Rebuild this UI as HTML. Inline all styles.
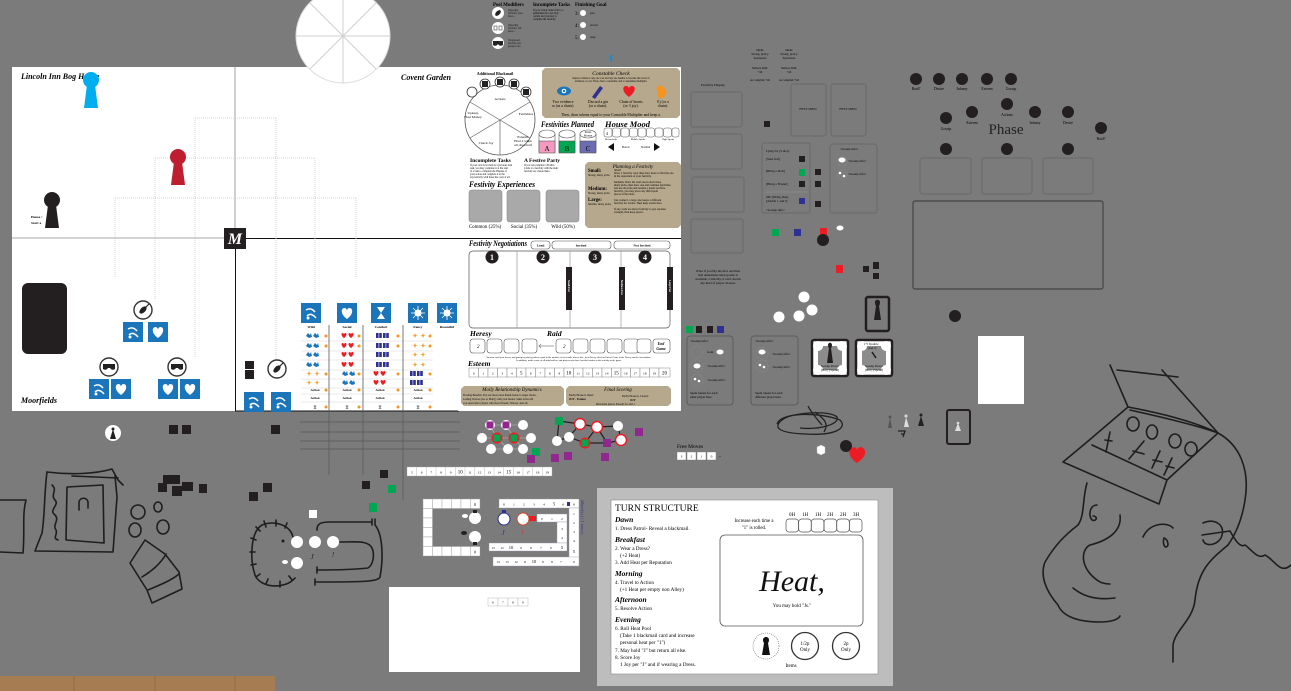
<!DOCTYPE html>
<html><head><meta charset="utf-8"><style>
html,body{margin:0;padding:0;background:#7b7b7b;width:1291px;height:691px;overflow:hidden}
svg{display:block}
text{font-family:"Liberation Serif",serif}
</style></head><body>
<svg width="1291" height="691" viewBox="0 0 1291 691" xmlns="http://www.w3.org/2000/svg">
<defs>
<g id="pawn"><circle cx="9" cy="8" r="8"/><path d="M5,13 L2,36 L16,36 L13,13 Z"/></g>
<g id="sqW"><rect width="20" height="20" fill="#1a75bb"/><path d="M5,7 Q10,4 14,9 M6,13 Q10,9 15,15" stroke="#fff" stroke-width="1.5" fill="none"/><circle cx="7" cy="15" r="1.5" fill="#fff"/></g>
<g id="sqH"><rect width="20" height="20" fill="#1a75bb"/><path d="M10,16 C3,11 4,5 7.5,5 C9,5 10,6.5 10,8 C10,6.5 11,5 12.5,5 C16,5 17,11 10,16 Z" fill="#fff"/></g>
<g id="sqC"><rect width="20" height="20" fill="#1a75bb"/><path d="M6,4 H14 L10,10 L14,16 H6 L10,10 Z" fill="#fff"/></g>
<g id="sqF"><rect width="20" height="20" fill="#1a75bb"/><circle cx="10" cy="10" r="3.5" fill="#fff"/><path d="M10,3 V17 M3,10 H17 M5,5 L15,15 M15,5 L5,15" stroke="#fff" stroke-width="0.8"/></g>
<g id="vio"><circle r="9" fill="#fff" stroke="#333" stroke-width="1.4"/><ellipse rx="2.5" ry="4.5" transform="rotate(45)" fill="#222"/><path d="M2,-2 L6,-6" stroke="#222" stroke-width="1.2"/></g>
<g id="mask"><circle r="9" fill="#fff" stroke="#333" stroke-width="1.4"/><path d="M-6,-3 H6 V2 Q3,4 1,1 H-1 Q-3,4 -6,2 Z" fill="#222"/></g>
<g id="bf"><path d="M0,3 L2,0 L4,2 L5,0 L6,4 L3,5 Z" fill="#1a75bb"/></g>
<g id="rh"><path d="M3,5 C0,3 0,0 1.5,0 C2.3,0 3,0.7 3,1.3 C3,0.7 3.7,0 4.5,0 C6,0 6,3 3,5 Z" fill="#ed1c24"/></g>
<g id="nv"><rect width="2.6" height="5" fill="#2e3192"/><rect x="3.2" width="2.6" height="5" fill="#2e3192"/></g>
<g id="os"><path d="M3,0 L3.8,2.2 L6,2.5 L3.8,3 L3,5 L2.2,3 L0,2.5 L2.2,2.2 Z" fill="#f7941d"/></g>
</defs>
<rect width="1291" height="691" fill="#7b7b7b"/>

<!-- LEFT BOARD -->
<rect x="12" y="67" width="446" height="344" fill="#fff"/>
<line x1="235" y1="67" x2="235" y2="238" stroke="#8a8a8a" stroke-width="0.8"/>
<line x1="12" y1="238" x2="235" y2="238" stroke="#8a8a8a" stroke-width="0.8"/>
<rect x="235.5" y="238.5" width="223" height="172.5" fill="none" stroke="#111" stroke-width="1"/>
<g stroke="#c8c8c8" stroke-width="0.8" stroke-dasharray="1,1" fill="none">
<path d="M195,118 H276 M155,158 H315 M115,198 H356 M195,118 V357 M276,118 V360 M155,158 V300 M315,158 V300 M115,198 V278 M356,198 V278"/>
</g>
<!-- top circle -->
<circle cx="343" cy="36" r="47" fill="#fff" stroke="#ddd" stroke-width="1"/>
<g stroke="#d0d0d0" stroke-width="1"><line x1="296" y1="36" x2="390" y2="36"/><line x1="343" y1="-11" x2="343" y2="83"/><line x1="310" y1="3" x2="376" y2="69"/><line x1="376" y1="3" x2="310" y2="69"/></g>

<text x="21" y="79" font-size="8" font-style="italic" font-weight="bold">Lincoln Inn Bog House</text>
<text x="451" y="80" font-size="8" font-style="italic" font-weight="bold" text-anchor="end">Covent Garden</text>
<text x="21" y="403" font-size="8" font-style="italic" font-weight="bold">Moorfields</text>
<text x="31" y="218" font-size="3.5" font-weight="bold">House /</text>
<text x="31" y="224" font-size="3.5" font-weight="bold">Start a</text>
<use href="#pawn" x="82" y="72" fill="#00aeef"/>
<use href="#pawn" x="169" y="149" fill="#be1e2d"/>
<use href="#pawn" x="43" y="192" fill="#231f20"/>
<rect x="224" y="228" width="22" height="21" fill="#231f20"/>
<text x="235" y="244" font-size="16" font-style="italic" font-weight="bold" fill="#fff" text-anchor="middle">M</text>
<rect x="22" y="283" width="45" height="71" rx="6" fill="#231f20"/>
<use href="#vio" x="143" y="310"/>
<use href="#sqW" x="123" y="322"/><use href="#sqH" x="148" y="322"/>
<use href="#mask" x="109" y="367"/><use href="#mask" x="177" y="367"/>
<use href="#sqW" x="89" y="379"/><use href="#sqH" x="111" y="379"/>
<use href="#sqH" x="158" y="379"/><use href="#sqH" x="180" y="379"/>
<rect x="245" y="361" width="9" height="8" fill="#231f20"/><rect x="245" y="370" width="9" height="9" fill="#231f20"/>
<use href="#vio" x="277" y="369"/>
<use href="#sqW" x="244" y="392"/><use href="#sqW" x="271" y="392"/>
<use href="#sqW" x="301" y="303"/><use href="#sqH" x="337" y="303"/><use href="#sqC" x="371" y="303"/><use href="#sqF" x="408" y="303"/><use href="#sqF" x="437" y="303"/>
<g font-size="3.5" font-weight="bold" text-anchor="middle">
<text x="311" y="328">Wild</text><text x="347" y="328">Social</text><text x="381" y="328">Comfort</text><text x="418" y="328">Fancy</text><text x="447" y="328">Resentful</text></g>
<g stroke="#d5d5d5" stroke-width="0.5"><path d="M301,341 H433 M301,351 H433 M301,360 H433 M301,370 H433 M301,379 H433 M301,388 H433 M301,394 H433 M301,402 H433"/></g>
<!-- table glyph rows -->
<g>
<use href="#bf" x="306" y="333"/><use href="#bf" x="313" y="333"/><use href="#rh" x="341" y="333"/><use href="#rh" x="348" y="333"/><use href="#nv" x="376" y="333"/><use href="#nv" x="383" y="333"/><use href="#os" x="412" y="333"/><use href="#os" x="420" y="333"/>
<use href="#bf" x="306" y="343"/><use href="#bf" x="313" y="343"/><use href="#rh" x="341" y="343"/><use href="#rh" x="348" y="343"/><use href="#nv" x="376" y="343"/><use href="#nv" x="383" y="343"/><use href="#os" x="412" y="343"/><use href="#os" x="420" y="343"/>
<use href="#bf" x="306" y="352"/><use href="#bf" x="313" y="352"/><use href="#rh" x="341" y="352"/><use href="#rh" x="348" y="352"/><use href="#nv" x="376" y="352"/><use href="#nv" x="383" y="352"/><use href="#os" x="412" y="352"/><use href="#os" x="420" y="352"/>
<use href="#bf" x="306" y="362"/><use href="#bf" x="313" y="362"/><use href="#rh" x="341" y="362"/><use href="#rh" x="348" y="362"/><use href="#nv" x="376" y="362"/><use href="#nv" x="383" y="362"/><use href="#os" x="412" y="362"/><use href="#os" x="420" y="362"/>
<use href="#os" x="306" y="371"/><use href="#os" x="314" y="371"/><use href="#bf" x="342" y="371"/><use href="#bf" x="349" y="371"/><use href="#rh" x="373" y="371"/><use href="#rh" x="380" y="371"/><use href="#nv" x="410" y="371"/><use href="#nv" x="417" y="371"/>
<use href="#os" x="306" y="380"/><use href="#os" x="314" y="380"/><use href="#bf" x="342" y="380"/><use href="#bf" x="349" y="380"/><use href="#rh" x="373" y="380"/><use href="#rh" x="380" y="380"/><use href="#nv" x="410" y="380"/><use href="#nv" x="417" y="380"/>
</g>
<g fill="#f7941d">
<circle cx="326" cy="336" r="1.5"/><circle cx="359" cy="336" r="1.5"/><circle cx="398" cy="336" r="1.5"/><circle cx="430" cy="336" r="1.5"/>
<circle cx="326" cy="346" r="1.5"/><circle cx="359" cy="346" r="1.5"/><circle cx="398" cy="346" r="1.5"/><circle cx="430" cy="346" r="1.5"/>
<circle cx="326" cy="374" r="1.5"/><circle cx="359" cy="374" r="1.5"/><circle cx="398" cy="374" r="1.5"/><circle cx="430" cy="374" r="1.5"/>
<circle cx="326" cy="390" r="1.5"/><circle cx="359" cy="390" r="1.5"/><circle cx="398" cy="390" r="1.5"/><circle cx="430" cy="390" r="1.5"/>
<circle cx="326" cy="407" r="1.5"/><circle cx="359" cy="407" r="1.5"/><circle cx="398" cy="407" r="1.5"/><circle cx="430" cy="407" r="1.5"/></g>
<g font-size="3.2" font-weight="bold" text-anchor="middle">
<text x="315" y="391">Action</text><text x="347" y="391">Action</text><text x="380" y="391">Action</text><text x="418" y="391">Action</text>
<text x="315" y="399">Action</text><text x="347" y="399">Action</text><text x="380" y="399">Action</text><text x="418" y="399">Action</text>
<text x="315" y="409" font-size="5">!!</text><text x="347" y="409" font-size="5">!!</text><text x="380" y="409" font-size="5">!!</text><text x="418" y="409" font-size="5">!!</text></g>
<g stroke="#5a5a5a" stroke-width="0.8" fill="none"><path d="M329,325 V475 M363,325 V475 M403,325 V500 M300,422 H460 M300,432 H460 M300,441 H460 M300,449 H460"/></g>

<!-- MIDDLE BOARD -->
<rect x="458" y="67" width="223" height="344" fill="#fff"/>
<line x1="458" y1="238.5" x2="681" y2="238.5" stroke="#111" stroke-width="1"/>
<circle cx="500" cy="120" r="35" fill="#fff" stroke="#555" stroke-width="0.8"/>
<g stroke="#666" stroke-width="0.7"><line x1="500" y1="120" x2="470" y2="102"/><line x1="500" y1="120" x2="530" y2="102"/><line x1="500" y1="120" x2="500" y2="155"/><line x1="500" y1="120" x2="530" y2="138"/><line x1="500" y1="120" x2="470" y2="138"/></g>
<text x="495" y="75" font-size="4" font-weight="bold" text-anchor="middle">Additional Blackmail</text>
<circle cx="472" cy="92" r="5" fill="#fff" stroke="#333" stroke-width="0.8"/>
<g fill="#fff" stroke="#333" stroke-width="0.8"><circle cx="485" cy="84" r="5"/><circle cx="500" cy="82" r="5"/><circle cx="514" cy="84" r="5"/><circle cx="526" cy="92" r="5"/></g>
<g fill="#222"><rect x="482" y="81" width="6" height="6"/><rect x="497" y="79" width="6" height="6"/><rect x="511" y="81" width="6" height="6"/><rect x="523" y="89" width="6" height="6"/></g>
<g font-size="3.5" text-anchor="middle"><text x="500" y="100">Actions</text><text x="473" y="114">Upkeep</text><text x="473" y="118">Host Money</text><text x="526" y="115">Festivities</text><text x="486" y="144">Check Joy</text><text x="523" y="138">Esteem:</text><text x="523" y="142">Host 2 when</text><text x="523" y="146">all, then half</text></g>
<path d="M545,68 H677 L680,71 V115 L677,118 H545 L542,115 V71 Z" fill="#b6a88c"/>
<text x="611" y="75" font-size="5.5" font-style="italic" text-anchor="middle">Constable Check</text>
<text x="611" y="79" font-size="2.6" text-anchor="middle">Inspect evidence: any one cost and any one bundle to become the worst of</text>
<text x="611" y="82" font-size="2.6" text-anchor="middle">evidence or cost. Then, draw a constable card to determine multiplier.</text>
<ellipse cx="564" cy="91" rx="7" ry="4.5" fill="#1a75bb"/><circle cx="564" cy="91" r="2.3" fill="#fff"/><circle cx="564" cy="91" r="1.2" fill="#1a75bb"/>
<path d="M592,97 L600,86 L603,88 L595,99 Z" fill="#2e3192"/>
<path d="M629,97 C622,92 622,86 626,86 C627.5,86 629,87 629,88.5 C629,87 630.5,86 632,86 C636,86 636,92 629,97 Z" fill="#ed1c24"/>
<circle cx="660" cy="89" r="3.5" fill="#f7941d"/><circle cx="663" cy="92" r="3.5" fill="#f7941d"/><circle cx="661" cy="95" r="3.5" fill="#f7941d"/>
<g font-size="3.8" text-anchor="middle"><text x="563" y="103">Two evidence</text><text x="563" y="107">or (as a chain).</text><text x="598" y="103">Discard a gin</text><text x="598" y="107">(or a chain).</text><text x="631" y="103">Chain of hearts</text><text x="631" y="107">(or 3 joy).</text><text x="663" y="103">Ej (or a</text><text x="663" y="107">chain).</text></g>
<text x="611" y="116" font-size="3.8" text-anchor="middle">Then, draw tokens equal to your Constable Multiplier and keep a.</text>
<text x="541" y="127" font-size="8" font-style="italic" font-weight="bold" textLength="53" lengthAdjust="spacingAndGlyphs">Festivities Planned</text>
<text x="605" y="127" font-size="8" font-style="italic" font-weight="bold" textLength="45" lengthAdjust="spacingAndGlyphs">House Mood</text>
<g stroke="#555" stroke-width="0.6">
<rect x="539" y="134" width="16" height="18" fill="#fff"/><rect x="539" y="141" width="16" height="12" fill="#f49ac1"/><ellipse cx="547" cy="134" rx="8" ry="4" fill="#fff"/>
<rect x="559" y="134" width="16" height="18" fill="#fff"/><rect x="559" y="141" width="16" height="12" fill="#00a651"/><ellipse cx="567" cy="134" rx="8" ry="4" fill="#fff"/>
<rect x="580" y="134" width="16" height="18" fill="#fff"/><rect x="580" y="141" width="16" height="12" fill="#6c6cb0"/><ellipse cx="588" cy="134" rx="8" ry="4" fill="#fff"/></g>
<g font-size="7" text-anchor="middle"><text x="547" y="151">A</text><text x="567" y="151">B</text><text x="588" y="151">C</text></g>
<text x="588" y="133" font-size="3" text-anchor="middle">Raise</text><text x="588" y="136.5" font-size="3" text-anchor="middle">Money</text>
<g fill="#fff" stroke="#555" stroke-width="0.5"><rect x="604" y="128" width="8" height="9" rx="2"/><rect x="612.5" y="128" width="8" height="9" rx="2"/><rect x="621" y="128" width="8" height="9" rx="2"/><rect x="629.5" y="128" width="8" height="9" rx="2"/><rect x="638" y="128" width="8" height="9" rx="2"/><rect x="646.5" y="128" width="8" height="9" rx="2"/><rect x="655" y="128" width="8" height="9" rx="2"/><rect x="663.5" y="128" width="8" height="9" rx="2"/><rect x="672" y="128" width="7" height="9" rx="2"/></g>
<text x="606" y="135" font-size="4">4</text>
<g font-size="2.5" text-anchor="middle"><text x="611" y="140">Melancholic</text><text x="638" y="140">Middle Spirits</text><text x="668" y="140">High Spirits</text></g>
<path d="M608,147 L614,143 L614,151 Z M660,147 L654,143 L654,151 Z" fill="#111"/>
<text x="622" y="148" font-size="3">Bored</text><text x="641" y="148" font-size="3">Normal</text>
<text x="470" y="162" font-size="5.5" font-weight="bold">Incomplete Tasks</text>
<text x="524" y="162" font-size="5.5" font-weight="bold">A Festive Party</text>
<g font-size="2.6"><text x="470" y="166">If your card is not before a previous turn</text><text x="470" y="169">task, you may complete it at the start</text><text x="470" y="172">of a task to complete the Dispute of</text><text x="470" y="175">your action and complete it at the</text><text x="470" y="178">any festivity with these the costs at all.</text>
<text x="524" y="166">If you can complete a Festive</text><text x="524" y="169">Cards at a festivity with the item</text><text x="524" y="172">festivity are cleared here.</text></g>
<text x="469" y="187" font-size="8" font-style="italic" font-weight="bold" textLength="66" lengthAdjust="spacingAndGlyphs">Festivity Experiences</text>
<g fill="#a9a9a9" stroke="#8a8a8a" stroke-width="0.6"><rect x="469" y="190" width="33" height="32" rx="3"/><rect x="507" y="190" width="33" height="32" rx="3"/><rect x="546" y="190" width="33" height="32" rx="3"/></g>
<g font-size="5" text-anchor="middle"><text x="485" y="228">Common (25%)</text><text x="524" y="228">Social (35%)</text><text x="563" y="228">Wild (50%)</text></g>
<path d="M588,162 H678 L681,165 V225 L678,228 H588 L585,225 V165 Z" fill="#b6a88c"/>
<text x="633" y="168" font-size="5" font-style="italic" text-anchor="middle">Planning a Festivity</text>
<g font-size="4.8" font-weight="bold"><text x="588" y="172">Small:</text><text x="588" y="190">Medium:</text><text x="588" y="201">Large:</text></g>
<g font-size="2.8"><text x="588" y="176">Strong, many picks</text><text x="588" y="194">Strong, many picks</text><text x="588" y="205">Smaller, many picks</text>
<text x="614" y="171">Small:</text><text x="614" y="174">Draw 1 festivity card, then draw more to find the one</text><text x="614" y="177">in the reputation of your festivity.</text><text x="614" y="183">Medium: Draw the total one in draw more</text><text x="614" y="186">many picks, then draw one and continue festivities</text><text x="614" y="189">and use all picks and resume a grand sacrifice</text><text x="614" y="192">festivity, you may place any third spent</text><text x="614" y="195">pieces at the table.</text><text x="614" y="201">Just connect, a large also keeps a different</text><text x="614" y="204">festivity for events. Then keep events here.</text><text x="614" y="210">If any cards are above festivity to pay expense</text><text x="614" y="213">strength, then keep pieces.</text></g>

<text x="469" y="246" font-size="8" font-style="italic" font-weight="bold" textLength="58" lengthAdjust="spacingAndGlyphs">Festivity Negotiations</text>
<g fill="#fff" stroke="#555" stroke-width="0.6"><rect x="531" y="241" width="19" height="8" rx="3"/><rect x="552" y="241" width="59" height="8" rx="3"/><rect x="614" y="241" width="56" height="8" rx="3"/></g>
<g font-size="3.5" font-weight="bold" text-anchor="middle"><text x="540.5" y="246.5">Lead</text><text x="581" y="246.5">Invited</text><text x="642" y="246.5">Not Invited</text></g>
<rect x="469" y="251" width="201" height="77" rx="4" fill="#fff" stroke="#555" stroke-width="0.7"/>
<g stroke="#999" stroke-width="0.7" fill="none"><path d="M517,251 V328 M570,251 V328 M621,251 V328"/></g>
<g fill="#231f20"><circle cx="492" cy="257" r="6.5"/><circle cx="543" cy="257" r="6.5"/><circle cx="595" cy="257" r="6.5"/><circle cx="645" cy="257" r="6.5"/></g>
<g font-size="8" font-weight="bold" fill="#fff" text-anchor="middle"><text x="492" y="260">1</text><text x="543" y="260">2</text><text x="595" y="260">3</text><text x="645" y="260">4</text></g>
<g fill="#231f20"><rect x="566" y="267" width="6" height="43"/><rect x="619" y="267" width="6" height="43"/><rect x="667" y="267" width="6" height="43"/></g>
<g font-size="2.6" fill="#fff" font-weight="bold"><text transform="translate(568,280) rotate(90)">Small Fest</text><text transform="translate(621,280) rotate(90)">Medium Fest</text><text transform="translate(669,280) rotate(90)">Large Fest</text></g>
<text x="470" y="336" font-size="7.5" font-style="italic" font-weight="bold">Heresy</text>
<text x="547" y="336" font-size="7.5" font-style="italic" font-weight="bold">Raid</text>
<g fill="#fff" stroke="#555" stroke-width="0.6">
<rect x="470" y="339" width="15" height="14" rx="3"/><rect x="487" y="339" width="15" height="14" rx="3"/><rect x="504" y="339" width="15" height="14" rx="3"/><rect x="522" y="339" width="15" height="14" rx="3"/>
<rect x="556" y="339" width="15" height="14" rx="3"/><rect x="573" y="339" width="15" height="14" rx="3"/><rect x="590" y="339" width="15" height="14" rx="3"/><rect x="607" y="339" width="15" height="14" rx="3"/><rect x="624" y="339" width="15" height="14" rx="3"/><rect x="637" y="339" width="14" height="14" rx="3"/><rect x="653" y="339" width="17" height="14" rx="3"/></g>
<path d="M539,346 H554 M541,344 L539,346 L541,348" stroke="#888" stroke-width="0.8" fill="none"/>
<text x="477" y="348" font-size="5" font-style="italic">2</text><text x="563" y="348" font-size="5" font-style="italic">2</text>
<text x="661" y="345" font-size="3.8" font-style="italic" font-weight="bold" text-anchor="middle">End</text><text x="661" y="350" font-size="3.8" font-style="italic" font-weight="bold" text-anchor="middle">Game</text>
<text x="569" y="358" font-size="2.4" text-anchor="middle">Increase total your heresy and gossip by placing tokens equal to the number of red results from a dice, then Heresy check at End of Game in the Heresy track in accordance.</text>
<text x="569" y="361" font-size="2.4" text-anchor="middle">In addition, make a note of all stakeholders, and players who have lost their stakes in the festivity at the game.</text>
<text x="468" y="366" font-size="7.5" font-style="italic" font-weight="bold">Esteem</text>
<g fill="#fff" stroke="#888" stroke-width="0.5">
<rect x="469" y="368" width="9.5" height="9"/><rect x="478.5" y="368" width="9.5" height="9"/><rect x="488" y="368" width="9.5" height="9"/><rect x="497.5" y="368" width="9.5" height="9"/><rect x="507" y="368" width="9.5" height="9"/><rect x="516.5" y="368" width="9.5" height="9"/><rect x="526" y="368" width="9.5" height="9"/><rect x="535.5" y="368" width="9.5" height="9"/><rect x="545" y="368" width="9.5" height="9"/><rect x="554.5" y="368" width="9.5" height="9"/><rect x="564" y="368" width="9.5" height="9"/><rect x="573.5" y="368" width="9.5" height="9"/><rect x="583" y="368" width="9.5" height="9"/><rect x="592.5" y="368" width="9.5" height="9"/><rect x="602" y="368" width="9.5" height="9"/><rect x="611.5" y="368" width="9.5" height="9"/><rect x="621" y="368" width="9.5" height="9"/><rect x="630.5" y="368" width="9.5" height="9"/><rect x="640" y="368" width="9.5" height="9"/><rect x="649.5" y="368" width="9.5" height="9"/><rect x="659" y="368" width="11" height="9"/></g>
<g font-size="3.5" text-anchor="middle"><text x="473.7" y="374.5">0</text><text x="483.2" y="374.5">1</text><text x="492.7" y="374.5">2</text><text x="502.2" y="374.5">3</text><text x="511.7" y="374.5">4</text><text x="521.2" y="374.5" font-size="5">5</text><text x="530.7" y="374.5">6</text><text x="540.2" y="374.5">7</text><text x="549.7" y="374.5">8</text><text x="559.2" y="374.5">9</text><text x="568.7" y="374.5" font-size="5">10</text><text x="578.2" y="374.5">11</text><text x="587.7" y="374.5">12</text><text x="597.2" y="374.5">13</text><text x="606.7" y="374.5">14</text><text x="616.2" y="374.5" font-size="5">15</text><text x="625.7" y="374.5">16</text><text x="635.2" y="374.5">17</text><text x="644.7" y="374.5">18</text><text x="654.2" y="374.5">19</text><text x="664.5" y="374.5" font-size="5">20</text></g>
<path d="M464,386 H561 L564,389 V403 L561,406 H464 L461,403 V389 Z" fill="#b6a88c"/>
<path d="M569,386 H668 L671,389 V403 L668,406 H569 L566,403 V389 Z" fill="#b6a88c"/>
<text x="512" y="391" font-size="5" font-style="italic" text-anchor="middle">Molly Relationship Dynamics</text>
<g font-size="2.7"><text x="463" y="396">Floating Benefits: Pay one more place Rapid-bonus to larger choice.</text><text x="463" y="400">Lasting Choices (Go or Molly) with your means. Same action till</text><text x="463" y="404">you equal other players with more Esteem, Whores, Jeez all.</text></g>
<text x="618" y="391" font-size="5" font-style="italic" text-anchor="middle">Final Scoring</text>
<g font-size="2.8"><text x="569" y="396">Molly House is Open:</text><text x="622" y="397">Molly House is Closed:</text><text x="569" y="400" font-weight="bold">JOY - Esteem</text><text x="630" y="401" font-weight="bold">JOY</text><text x="596" y="405">Informant ignore Esteem for add 1</text></g>

<!-- TOP LEGEND -->
<text x="493" y="6" font-size="5" font-weight="bold">Peel Modifiers</text>
<g fill="#fff"><circle cx="498" cy="13" r="6"/><circle cx="498" cy="28" r="6"/><circle cx="498" cy="43" r="6"/></g>
<ellipse cx="498" cy="13" rx="2" ry="3.5" transform="rotate(45 498 13)" fill="#222"/>
<rect x="494" y="26" width="3" height="4" fill="none" stroke="#444" stroke-width="0.6"/><rect x="499" y="26" width="3" height="4" fill="none" stroke="#444" stroke-width="0.6"/>
<path d="M493,41 H503 V45 Q500,47 498,44 Q496,47 493,45 Z" fill="#222"/>
<g font-size="2.6" fill="#111"><text x="508" y="11">Opposing</text><text x="508" y="14">festivity; once</text><text x="508" y="17">more...</text><text x="508" y="26">Opposing</text><text x="508" y="29">festivity; fail</text><text x="508" y="32">more...</text><text x="508" y="41">Unopposed:</text><text x="508" y="44">festivity any</text><text x="508" y="47">gossip cost...</text></g>
<text x="533" y="6" font-size="5" font-weight="bold">Incomplete Tasks</text>
<g font-size="2.6"><text x="533" y="11">If your action cannot fail to a</text><text x="533" y="14">unfinished the card, may</text><text x="533" y="17">certain and you may to</text><text x="533" y="20">complete the festivity.</text></g>
<text x="575" y="6" font-size="5" font-weight="bold">Finishing Goal</text>
<g font-size="5"><text x="575" y="15">3:</text><text x="575" y="27">4:</text><text x="575" y="39">5:</text></g>
<g fill="#fff"><circle cx="583" cy="13" r="3"/><circle cx="583" cy="25" r="3"/><circle cx="583" cy="37" r="3"/></g>
<g font-size="2.6"><text x="590" y="14">pass</text><text x="590" y="26">success</text><text x="590" y="38">surge</text></g>
<rect x="610" y="55" width="2" height="6" fill="#1a8ad4"/>

<!-- RIGHT UPPER -->
<text x="713" y="86" font-size="3.5" text-anchor="middle">Festivity Display</text>
<g fill="none" stroke="#666" stroke-width="0.8"><rect x="691" y="92" width="51" height="35" rx="2"/><rect x="691" y="134" width="51" height="35" rx="2"/><rect x="692" y="177" width="52" height="35" rx="2"/><rect x="691" y="219" width="52" height="34" rx="2"/></g>
<g font-size="3" text-anchor="middle"><text x="760" y="51">Small:</text><text x="760" y="55">Strong, pick-y</text><text x="760" y="59">Sparreurse</text><text x="760" y="69">Subtery Rim:</text><text x="760" y="73">+all</text><text x="760" y="81">Accomplish +all</text>
<text x="789" y="51">Small:</text><text x="789" y="55">Strong, pick-y</text><text x="789" y="59">Sparreurse</text><text x="789" y="69">Subtery Rim:</text><text x="789" y="73">+all</text><text x="789" y="81">Accomplish +all</text></g>
<g fill="none" stroke="#666" stroke-width="0.8"><rect x="791" y="84" width="35" height="52" rx="2"/><rect x="831" y="84" width="35" height="52" rx="2"/></g>
<g font-size="3.5" text-anchor="middle"><text x="808" y="110">FEST INFO</text><text x="848" y="110">FEST INFO</text></g>
<rect x="764" y="121" width="6" height="6" fill="#231f20"/>
<rect x="762" y="143" width="48" height="70" rx="2" fill="none" stroke="#666" stroke-width="0.8"/>
<g font-size="3.3"><text x="766" y="152">Lying for (3 dice)</text><text x="766" y="160">[Start fest]</text><text x="766" y="172">[Bring a Doll]</text><text x="766" y="185">[Bring a Friend]</text><text x="766" y="198">OR: [Bring One]</text><text x="766" y="202">[double 1 and J]</text><text x="766" y="211">&lt;Gossip info&gt;</text></g>
<line x1="766" y1="192" x2="808" y2="192" stroke="#999" stroke-width="0.6"/>
<rect x="799" y="156" width="6" height="6" fill="#231f20"/><rect x="799" y="169" width="6" height="7" fill="#00a651"/><rect x="799" y="181" width="6" height="6" fill="#231f20"/><rect x="799" y="198" width="6" height="6" fill="#2e3192"/>
<rect x="815" y="169" width="6" height="6" fill="#231f20"/><rect x="815" y="181" width="6" height="6" fill="#231f20"/><rect x="815" y="201" width="6" height="6" fill="#231f20"/>
<rect x="830" y="144" width="47" height="69" rx="3" fill="none" stroke="#666" stroke-width="0.8"/>
<g font-size="3.2"><text x="840" y="150">&lt;Gossip info&gt;</text><text x="848" y="162">&lt;Gossip info&gt;</text><text x="848" y="175">&lt;Gossip info&gt;</text></g>
<circle cx="842" cy="161" r="5" fill="none" stroke="#888" stroke-width="0.5"/><ellipse cx="842" cy="160" rx="3.5" ry="2.5" fill="#fff"/>
<circle cx="842" cy="175" r="5" fill="none" stroke="#888" stroke-width="0.5"/><circle cx="840" cy="173" r="1.3" fill="#fff"/><circle cx="844" cy="176" r="1.3" fill="#fff"/>
<rect x="772" y="229" width="7" height="7" fill="#00a651"/><rect x="794" y="229" width="7" height="7" fill="#2e3192"/><rect x="820" y="228" width="7" height="7" fill="#ed1c24"/>
<ellipse cx="840" cy="228" rx="3.5" ry="2.5" fill="#fff"/>
<circle cx="823" cy="240" r="6" fill="#231f20"/>

<!-- PHASE -->
<g fill="#231f20"><circle cx="916" cy="79" r="6"/><circle cx="939" cy="79" r="6"/><circle cx="962" cy="79" r="6"/><circle cx="987" cy="79" r="6"/><circle cx="1011" cy="79" r="6"/>
<circle cx="946" cy="118" r="6"/><circle cx="972" cy="112" r="6"/><circle cx="1007" cy="104" r="6"/><circle cx="1035" cy="112" r="6"/><circle cx="1068" cy="112" r="6"/><circle cx="1101" cy="128" r="6"/>
<circle cx="946" cy="149" r="6"/><circle cx="1007" cy="149" r="6"/><circle cx="1068" cy="149" r="6"/></g>
<g font-size="3.8" text-anchor="middle"><text x="916" y="90">Raid?</text><text x="939" y="90">Desire</text><text x="962" y="90">Infamy</text><text x="987" y="90">Esteem</text><text x="1011" y="90">Gossip</text>
<text x="946" y="130">Gossip</text><text x="972" y="124">Esteem</text><text x="1007" y="116">Actions</text><text x="1035" y="124">Infamy</text><text x="1068" y="124">Desire</text><text x="1101" y="140">Raid?</text></g>
<text x="1006" y="134" font-size="15" text-anchor="middle" fill="#222">Phase</text>
<g fill="none" stroke="#666" stroke-width="0.8"><rect x="920" y="158" width="51" height="36" rx="2"/><rect x="982" y="158" width="50" height="36" rx="2"/><rect x="1043" y="158" width="50" height="36" rx="2"/></g>
<rect x="913" y="201" width="190" height="88" rx="2" fill="none" stroke="#333" stroke-width="0.9"/>

<!-- RIGHT MIDDLE -->
<g font-size="3.3" text-anchor="middle"><text x="718" y="272">What if you flip the dice and then</text><text x="718" y="276">that determines what gossip is</text><text x="718" y="280">available. Critically, it can't stretch</text><text x="718" y="284">any kind of player choices.</text></g>
<rect x="836" y="265" width="7" height="8" fill="#ed1c24"/>
<rect x="863" y="266" width="6" height="6" fill="#231f20"/><rect x="873" y="262" width="6" height="7" fill="#231f20"/><rect x="873" y="273" width="6" height="6" fill="#231f20"/>
<g fill="#fff"><circle cx="804" cy="297" r="5.5"/><circle cx="812" cy="310" r="5.5"/><circle cx="799" cy="316" r="5.5"/><circle cx="779" cy="317" r="5.5"/></g>
<circle cx="955" cy="316" r="6" fill="#231f20"/>
<rect x="866" y="297" width="23" height="34" rx="2" fill="none" stroke="#231f20" stroke-width="2.5"/>
<path d="M875,302 C875,299 880,299 880,302 C880,305 879,306 879,306 L881,320 L874,320 L876,306 C876,306 875,305 875,302 Z" fill="#231f20"/>
<rect x="686" y="326" width="7" height="7" fill="#00a651"/><rect x="696" y="326" width="6" height="7" fill="#231f20"/><rect x="707" y="326" width="6" height="7" fill="#231f20"/><rect x="717" y="326" width="7" height="7" fill="#2e3192"/>
<g fill="none" stroke="#555" stroke-width="0.8"><rect x="687" y="336" width="46" height="69" rx="3"/><rect x="751" y="336" width="47" height="69" rx="3"/></g>
<g font-size="3.2"><text x="690" y="342">&lt;Gossip info&gt;</text><text x="707" y="353">Gain</text><text x="707" y="367">&lt;Gossip info&gt;</text><text x="707" y="381">&lt;Gossip info&gt;</text><text x="690" y="394">Spent tokens for each</text><text x="690" y="398">other player here.</text>
<text x="755" y="342">&lt;Gossip info&gt;</text><text x="772" y="355">&lt;Gossip info&gt;</text><text x="772" y="368">&lt;Gossip info&gt;</text><text x="755" y="394">Spent tokens for each</text><text x="755" y="398">different player here.</text></g>
<g fill="none" stroke="#999" stroke-width="0.5" stroke-dasharray="1,1"><circle cx="697" cy="352" r="6"/><circle cx="697" cy="366" r="6"/><circle cx="697" cy="380" r="6"/><circle cx="762" cy="353" r="6"/><circle cx="762" cy="366" r="6"/></g>
<g fill="#fff"><ellipse cx="720" cy="352" rx="3.5" ry="2.5"/><ellipse cx="697" cy="366" rx="3.5" ry="2.5"/><circle cx="695" cy="379" r="1.3"/><circle cx="699" cy="381" r="1.3"/><ellipse cx="762" cy="352" rx="3.5" ry="2.5"/><circle cx="760" cy="365" r="1.3"/><circle cx="764" cy="367" r="1.3"/></g>
<rect x="812" y="340" width="36" height="36" rx="2" fill="#fff" stroke="#231f20" stroke-width="2.5"/>
<rect x="856" y="340" width="36" height="36" rx="2" fill="#fff" stroke="#231f20" stroke-width="2.5"/>
<g fill="#8c8c8c"><rect x="818" y="346" width="24" height="24"/><rect x="862" y="346" width="24" height="24"/></g>
<g fill="#fff"><circle cx="818" cy="346" r="5"/><circle cx="842" cy="346" r="5"/><circle cx="818" cy="370" r="5"/><circle cx="842" cy="370" r="5"/><circle cx="862" cy="346" r="5"/><circle cx="886" cy="346" r="5"/><circle cx="862" cy="370" r="5"/><circle cx="886" cy="370" r="5"/></g>
<path d="M828,345 C828,342 832,342 832,345 C832,347 831,348 831,348 L833,363 L827,363 L829,348 C829,348 828,347 828,345 Z" fill="#231f20"/>
<g font-size="3.2" text-anchor="middle"><text x="830" y="367">Gossip Power</text><text x="830" y="371">[Doc] [Spend]</text><text x="871" y="345">1+J  Double</text><text x="872" y="349">[and J]</text><text x="874" y="367">Gossip Power</text><text x="874" y="371">[Doc] [Spend]</text></g>
<path d="M872,352 L876,358" stroke="#231f20" stroke-width="1.5"/>
<rect x="978" y="336" width="46" height="68" fill="#fff"/>
<path d="M777,424 C780,412 820,412 840,420 C848,428 835,436 805,434 C780,433 772,428 782,420 C792,412 830,410 837,417 C840,424 820,430 800,428 M815,412 C822,418 830,422 824,432 M808,406 C812,414 818,420 822,425" fill="none" stroke="#222" stroke-width="1.3"/>
<path d="M888,428 L890,418 L892,428 Z" fill="#555"/><circle cx="890" cy="417" r="1.5" fill="#555"/>
<path d="M904,427 L906,417 L909,427 Z" fill="#ddd"/><circle cx="906" cy="416" r="1.5" fill="#ddd"/>
<path d="M918,426 L921,416 L924,426 Z" fill="#222"/><circle cx="921" cy="415" r="1.5" fill="#222"/>
<path d="M898,431 L905,431 L903,437 M901,434 L904,434" stroke="#222" stroke-width="1.3" fill="none"/>
<rect x="947" y="410" width="23" height="34" rx="2" fill="none" stroke="#231f20" stroke-width="2"/>
<path d="M955,431 L958,423 L961,431 Z" fill="#ddd"/><circle cx="958" cy="423" r="1.3" fill="#ddd"/>
<text x="677" y="448" font-size="5.5">Free Moves</text>
<g fill="#fff" stroke="#777" stroke-width="0.4"><rect x="677" y="452" width="9" height="8"/><rect x="687" y="452" width="9" height="8"/><rect x="697" y="452" width="9" height="8"/><rect x="707" y="452" width="9" height="8"/></g>
<g font-size="3.5" text-anchor="middle"><text x="681.5" y="457.5">3</text><text x="691.5" y="457.5">2</text><text x="701.5" y="457.5">1</text><text x="711.5" y="457.5">0</text><text x="720" y="457.5">+</text></g>
<path d="M817,447 L821,445 L825,447 L825,453 L821,455 L817,453 Z" fill="#fff" stroke="#bbb" stroke-width="0.4"/>
<circle cx="846" cy="446" r="6" fill="#231f20"/>
<path d="M857,463 C848,457 848,450 852,448 C854,446 857,448 857,450 C858,447 861,446 863,448 C867,451 866,457 857,463 Z" fill="#ed1c24"/>

<!-- BOTTOM CENTER PIECES -->
<g stroke="#bbb" stroke-width="0.6" fill="none"><path d="M490,425 L506,425 L523,425 M482,438 L531,438 M491,449 L523,449 M490,425 L497,438 L508,449 M506,425 L514,438 L523,449"/></g>
<g fill="#fff"><circle cx="490" cy="425" r="5"/><circle cx="506" cy="425" r="5"/><circle cx="523" cy="425" r="5"/><circle cx="482" cy="438" r="5"/><circle cx="531" cy="438" r="5"/><circle cx="491" cy="449" r="5"/><circle cx="508" cy="449" r="5"/><circle cx="523" cy="449" r="5"/></g>
<g fill="#ed1c24"><circle cx="497" cy="438" r="5.5"/><circle cx="514" cy="438" r="5.5"/></g>
<g fill="#00a651"><rect x="493.5" y="434.5" width="7" height="7"/><rect x="510.5" y="434.5" width="7" height="7"/><rect x="532" y="448" width="8" height="8"/></g>
<g fill="#92278f"><rect x="486.5" y="421.5" width="7" height="7"/><rect x="502.5" y="421.5" width="7" height="7"/><rect x="527" y="455" width="8" height="8"/><rect x="551" y="454" width="8" height="8"/><rect x="564" y="452" width="8" height="8"/><rect x="601" y="453" width="8" height="8"/><rect x="635" y="428" width="8" height="8"/></g>
<g stroke="#222" stroke-width="1.2" fill="none"><path d="M559,421 L580,424 L597,427 L618,426 M559,421 L557,441 L569,437 L580,424 M569,437 L585,443 L607,443 L621,440 L618,426 M597,427 L585,443 M597,427 L607,443"/></g>
<g fill="#fff"><circle cx="580" cy="424" r="5.5" stroke="#ed1c24" stroke-width="1.5"/><circle cx="597" cy="427" r="5.5" stroke="#ed1c24" stroke-width="1.5"/><circle cx="621" cy="440" r="5.5" stroke="#ed1c24" stroke-width="1.5"/><circle cx="618" cy="426" r="5"/><circle cx="557" cy="441" r="5"/><circle cx="569" cy="437" r="5"/></g>
<circle cx="585" cy="443" r="5.5" fill="#ed1c24"/>
<rect x="555" y="417" width="8" height="8" fill="#00a651"/><rect x="581.5" y="439.5" width="7" height="7" fill="#00a651"/><rect x="603" y="439" width="8" height="8" fill="#92278f"/>
<g fill="#fff" stroke="#aaa" stroke-width="0.4"><rect x="407" y="467" width="145" height="9"/></g>
<g font-size="3.5" text-anchor="middle"><text x="412" y="473.5">5</text><text x="421.6" y="473.5">6</text><text x="431.3" y="473.5">7</text><text x="441" y="473.5">8</text><text x="450.6" y="473.5">9</text><text x="460.3" y="473.5" font-size="5">10</text><text x="470" y="473.5">11</text><text x="479.6" y="473.5">12</text><text x="489.3" y="473.5">13</text><text x="499" y="473.5">14</text><text x="508.6" y="473.5" font-size="5">15</text><text x="518.3" y="473.5">16</text><text x="528" y="473.5">17</text><text x="537.6" y="473.5">18</text><text x="547.3" y="473.5">19</text></g>
<g stroke="#aaa" stroke-width="0.4"><path d="M416.7,467 V476 M426.4,467 V476 M436,467 V476 M445.7,467 V476 M455.4,467 V476 M465,467 V476 M474.7,467 V476 M484.4,467 V476 M494,467 V476 M503.7,467 V476 M513.4,467 V476 M523,467 V476 M532.7,467 V476 M542.4,467 V476"/></g>
<!-- left hollow track -->
<g fill="#fff" stroke="#999" stroke-width="0.4">
<rect x="423" y="499" width="9.5" height="9.5"/><rect x="432.5" y="499" width="9.5" height="9.5"/><rect x="442" y="499" width="9.5" height="9.5"/><rect x="451.5" y="499" width="9.5" height="9.5"/><rect x="461" y="499" width="9.5" height="9.5"/><rect x="470.5" y="499" width="9.5" height="9.5"/>
<rect x="423" y="508.5" width="9.5" height="9.5"/><rect x="423" y="518" width="9.5" height="9.5"/><rect x="423" y="527.5" width="9.5" height="9.5"/><rect x="423" y="537" width="9.5" height="9.5"/>
<rect x="423" y="546.5" width="9.5" height="9.5"/><rect x="432.5" y="546.5" width="9.5" height="9.5"/><rect x="442" y="546.5" width="9.5" height="9.5"/><rect x="451.5" y="546.5" width="9.5" height="9.5"/><rect x="461" y="546.5" width="9.5" height="9.5"/><rect x="470.5" y="546.5" width="9.5" height="9.5"/></g>
<text x="475" y="506" font-size="4" text-anchor="middle">0</text><text x="475" y="553.5" font-size="4" text-anchor="middle">0</text>
<g fill="#fff"><circle cx="475" cy="518" r="6"/><circle cx="475" cy="537" r="6"/><ellipse cx="465" cy="516" rx="3" ry="2"/></g>
<ellipse cx="464" cy="533" rx="3" ry="2" fill="#222"/>
<rect x="473" y="510" width="4" height="3" fill="#222"/><rect x="473" y="542" width="4" height="3" fill="#222"/>
<!-- right track -->
<g fill="#fff" stroke="#99a" stroke-width="0.4">
<rect x="499" y="499" width="80" height="9"/><rect x="569" y="508" width="10" height="58"/><rect x="493" y="557" width="86" height="9"/><rect x="537" y="514" width="30" height="8"/><rect x="557" y="522" width="10" height="21"/><rect x="489" y="543" width="78" height="8"/></g>
<g font-size="3.3" text-anchor="middle"><text x="504" y="505.5">8</text><text x="514" y="505.5">1</text><text x="524" y="505.5">2</text><text x="534" y="505.5">3</text><text x="544" y="505.5">4</text><text x="554" y="505.5" font-size="4.5">5</text><text x="563" y="505.5">6</text><text x="574" y="505.5">8</text>
<text x="574" y="515">1</text><text x="574" y="524">2</text><text x="574" y="533">3</text><text x="574" y="542">4</text><text x="574" y="553" font-size="4.5">5</text><text x="574" y="563">6</text>
<text x="542" y="520">0</text><text x="552" y="520">1</text><text x="562" y="520">2</text><text x="562" y="530">3</text><text x="562" y="539">4</text>
<text x="493" y="549">13</text><text x="502" y="549">12</text><text x="511" y="549" font-size="4.5">10</text><text x="521" y="549">9</text><text x="531" y="549">8</text><text x="541" y="549">7</text><text x="551" y="549">6</text><text x="562" y="549" font-size="4.5">5</text>
<text x="498" y="563">14</text><text x="507" y="563">13</text><text x="516" y="563">12</text><text x="525" y="563">11</text><text x="534" y="563" font-size="4.5">10</text><text x="543" y="563">9</text><text x="552" y="563">8</text><text x="561" y="563">7</text></g>
<rect x="567" y="502" width="3" height="4" fill="#2e3192"/>
<circle cx="504" cy="519" r="6" fill="#fff" stroke="#2e3192" stroke-width="1"/><rect x="502" y="510" width="4" height="3" fill="#2e3192"/>
<circle cx="523" cy="519" r="6" fill="#fff" stroke="#d04a2a" stroke-width="1"/><rect x="529" y="516" width="7" height="5" fill="#ed1c24"/>
<text x="503" y="535" font-size="7" font-style="italic" fill="#2e3192" text-anchor="middle">J</text>
<text x="522" y="535" font-size="7" font-style="italic" fill="#ed1c24" text-anchor="middle">!</text>
<text transform="translate(581,500) rotate(90)" font-size="4.5" font-style="italic" fill="#2e3192">Move(s) (+1 more)</text>
<rect x="389" y="587" width="191" height="85" fill="#fff"/>
<g fill="#fff" stroke="#aaa" stroke-width="0.4"><rect x="488" y="598" width="10" height="8"/><rect x="498" y="598" width="10" height="8"/><rect x="508" y="598" width="10" height="8"/><rect x="518" y="598" width="10" height="8"/></g>
<g font-size="3.3" text-anchor="middle"><text x="493" y="603.5">6</text><text x="503" y="603.5">7</text><text x="513" y="603.5">8</text><text x="523" y="603.5">9</text></g>

<!-- TURN STRUCTURE -->
<rect x="597" y="488" width="296" height="198" fill="#bdbdbd"/>
<rect x="611" y="500" width="267" height="174" fill="#fff" stroke="#888" stroke-width="0.6"/>
<text x="615" y="511" font-size="9.5">TURN STRUCTURE</text>
<g font-size="7.5" font-style="italic" font-weight="bold"><text x="615" y="522">Dawn</text><text x="615" y="542">Breakfast</text><text x="615" y="576">Morning</text><text x="615" y="602">Afternoon</text><text x="615" y="622">Evening</text></g>
<g font-size="5.2"><text x="615" y="530">1. Dress Patrol- Reveal a blackmail.</text><text x="615" y="550">2. Wear a Dress?</text><text x="620" y="557">(+2 Heat)</text><text x="615" y="564">3. Add Heat per Reputation</text><text x="615" y="584">4. Travel to Action</text><text x="620" y="591">(+1 Heat per empty non Alley)</text><text x="615" y="610">5. Resolve Action</text><text x="615" y="630">6. Roll Heat Pool</text><text x="620" y="637">(Take 1 blackmail card and increase</text><text x="620" y="644">personal heat per "1")</text><text x="615" y="652">7. May hold "J" but return all else.</text><text x="615" y="659">8. Score Joy</text><text x="620" y="666">1 Joy per "J" and if wearing a Dress.</text></g>
<g font-size="4.8" text-anchor="middle"><text x="754" y="522">Increase each time a</text><text x="754" y="529">"1" is rolled.</text></g>
<g font-size="5" text-anchor="middle"><text x="792" y="516">0H</text><text x="805" y="516">1H</text><text x="818" y="516">1H</text><text x="830" y="516">2H</text><text x="843" y="516">2H</text><text x="856" y="516">3H</text></g>
<g fill="#fff" stroke="#555" stroke-width="0.7"><rect x="786" y="519" width="12.5" height="13" rx="3"/><rect x="798.7" y="519" width="12.5" height="13" rx="3"/><rect x="811.4" y="519" width="12.5" height="13" rx="3"/><rect x="824.1" y="519" width="12.5" height="13" rx="3"/><rect x="836.8" y="519" width="12.5" height="13" rx="3"/><rect x="849.5" y="519" width="12.5" height="13" rx="3"/></g>
<rect x="720" y="535" width="143" height="91" rx="5" fill="#fff" stroke="#555" stroke-width="0.8"/>
<text x="792" y="591" font-size="30" font-style="italic" text-anchor="middle" fill="#111">Heat,</text>
<text x="792" y="607" font-size="5" text-anchor="middle">You may hold "Js."</text>
<circle cx="766" cy="646" r="13" fill="none" stroke="#666" stroke-width="0.6" stroke-dasharray="1,1"/>
<path d="M763,640 C763,636 769,636 769,640 C769,642 768,643 768,643 L770,655 L762,655 L764,643 C764,643 763,642 763,640 Z" fill="#111"/>
<circle cx="805" cy="646" r="13.5" fill="none" stroke="#333" stroke-width="1.3"/>
<circle cx="846" cy="646" r="13.5" fill="none" stroke="#333" stroke-width="1.3"/>
<g font-size="5" text-anchor="middle"><text x="805" y="645">1/2p</text><text x="805" y="651">Only</text><text x="846" y="645">2p</text><text x="846" y="651">Only</text><text x="791" y="667">Items</text></g>

<!-- BOTTOM LEFT -->
<rect x="0" y="676" width="275" height="15" fill="#a67c52"/>
<g stroke="#8f6a45" stroke-width="0.8"><path d="M74,676 V691 M155,676 V691 M235,676 V691"/></g>
<circle cx="113" cy="433" r="8" fill="#fff"/>
<path d="M110,439 L113,429 L116,439 Z" fill="#222"/><circle cx="113" cy="429" r="1.5" fill="#222"/>
<g fill="#231f20">
<rect x="169" y="425" width="9" height="9"/><rect x="182" y="425" width="9" height="9"/><rect x="271" y="425" width="9" height="9"/>
<rect x="163" y="475" width="17" height="9"/><rect x="158" y="483" width="9" height="9"/><rect x="172" y="486" width="10" height="10"/><rect x="182" y="482" width="11" height="9"/><rect x="199" y="484" width="8" height="9"/><rect x="249" y="492" width="9" height="9"/><rect x="263" y="483" width="9" height="9"/>
<rect x="362" y="481" width="8" height="8"/><rect x="380" y="470" width="8" height="8"/></g>
<rect x="388" y="485" width="8" height="8" fill="#00a651"/><rect x="369" y="503" width="8" height="9" fill="#00a651"/>
<rect x="309" y="510" width="8" height="8" fill="#fff"/>
<g fill="none" stroke="#1e1e1e" stroke-width="1.6" stroke-linecap="round" stroke-linejoin="round">
<path d="M0,500 L26,500 C22,515 25,530 23,553 L0,552"/>
<path d="M47,472 C44,495 45,515 42,533 L35,551 L113,552 L117,497 L115,476"/>
<path d="M47,472 C70,475 95,474 112,469 L118,480 L123,485 M72,476 L118,478"/>
<path d="M67,487 L103,485 L104,543 L66,540 Z"/>
<path d="M52,485 C58,490 50,495 55,500 C60,505 48,510 55,515 C60,520 52,525 56,530 C58,535 52,538 58,540"/>
<path d="M79,510 L79,502 C80,497 87,497 88,502 L88,508"/>
<ellipse cx="138" cy="512" rx="7" ry="7"/><ellipse cx="158" cy="507" rx="4" ry="5"/><ellipse cx="135" cy="530" rx="6" ry="7"/><ellipse cx="163" cy="527" rx="6" ry="7"/>
<path d="M145,540 L165,554 L179,572 L182,589 L152,603 L147,590 L130,563 Z M142,577 C150,572 160,565 166,554 M148,590 C160,585 172,580 179,574"/>
<path d="M293,537 C290,525 275,520 262,525 C250,532 250,560 255,575 C260,588 285,590 295,578"/>
<path d="M264,521 L266,527 M276,520 L276,526 M287,523 L285,528 M256,527 L260,531 M251,538 L256,540 M250,552 L255,552 M251,565 L256,564 M256,577 L260,574 M266,584 L268,579 M280,587 L280,581 M292,580 L289,576"/>
<path d="M317,530 C317,524 320,522 330,522 L372,522 M372,519 L372,525 M375,519 L375,525 C382,533 384,555 380,577 C378,582 360,582 316,582 M315,579 L315,585"/>
<path d="M340,542 C355,542 368,540 372,548 C375,555 373,565 368,568 C350,570 330,570 317,570 M317,567 L317,573"/>
</g>
<circle cx="283" cy="541" r="1.5" fill="#1e1e1e"/>
<g fill="#fff"><circle cx="297" cy="542" r="6"/><circle cx="315" cy="542" r="6"/><circle cx="333" cy="542" r="6"/><circle cx="297" cy="563" r="6"/><ellipse cx="285" cy="562" rx="3" ry="2"/></g>
<text x="312" y="559" font-size="7" font-style="italic" text-anchor="middle" fill="#222">J</text>
<text x="333" y="557" font-size="7" font-style="italic" text-anchor="middle" fill="#222">!</text>

<!-- HEAD SKETCH -->
<g fill="none" stroke="#1e1e1e" stroke-width="1.6" stroke-linecap="round" stroke-linejoin="round">
<path d="M1110,365 L1128,407 M1117,370 L1178,377 M1162,370 L1218,433"/>
<path d="M1087,442 L1063,462 L1159,504 L1167,480 M1092,445 L1167,480 M1087,442 L1128,407 C1160,413 1195,422 1218,433 L1167,480 M1130,410 C1165,418 1195,425 1215,432"/>
<ellipse cx="1133" cy="424" rx="6" ry="7"/><ellipse cx="1152" cy="432" rx="5.5" ry="7"/><ellipse cx="1175" cy="441" rx="6" ry="7"/><ellipse cx="1191" cy="449" rx="6" ry="7"/>
<path d="M1110,432 L1106,452 M1105,440 L1112,441 M1144,441 L1129,459 M1133,451 L1144,454 M1160,451 L1152,468 M1153,460 L1162,462 M1172,458 L1164,475 M1166,466 L1174,468"/>
<path d="M1218,433 C1240,445 1250,470 1245,500 C1242,520 1235,535 1228,545 C1210,560 1198,570 1195,600 C1193,620 1175,630 1173,645 L1173,662"/>
<path d="M1087,483 C1082,500 1085,515 1078,525 C1065,535 1055,545 1045,562 C1040,575 1045,590 1058,605 C1062,615 1075,622 1100,622 C1110,622 1118,620 1120,616"/>
<path d="M1120,515 C1122,530 1110,540 1090,545 C1080,550 1080,570 1100,582 C1105,584 1110,584 1110,584 M1073,588 C1085,598 1100,600 1115,598"/>
<path d="M1097,505 C1090,505 1088,515 1092,520 C1097,522 1098,516 1093,516"/>
<path d="M1143,537 C1150,522 1168,522 1173,528 M1164,538 C1162,545 1166,550 1168,545 C1168,540 1165,538 1164,538"/>
<path d="M1203,523 C1215,518 1225,525 1222,535 C1220,545 1205,548 1203,540 M1202,535 L1230,531 C1235,540 1240,548 1245,545 C1252,550 1258,560 1265,555 C1275,560 1280,575 1291,565"/>
</g>
</svg>
</body></html>
